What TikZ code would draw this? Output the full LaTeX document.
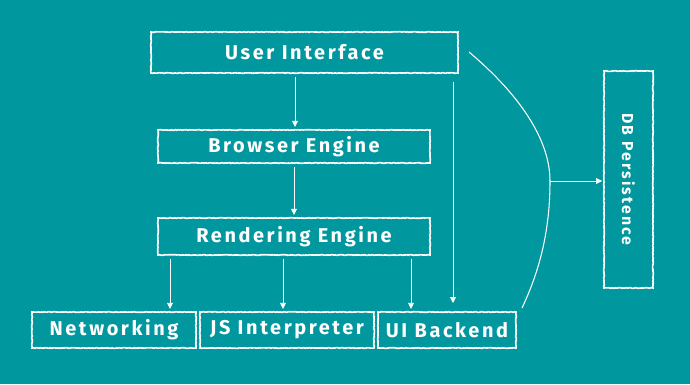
\documentclass[tikz,border=0pt]{standalone}
\usepackage{fontspec}
\setmainfont{Fira Sans}[LetterSpace=13]
\usepackage{tikz}
\usetikzlibrary{positioning, arrows.meta, decorations.pathmorphing}
\definecolor{bTeal}{HTML}{00979F}

\tikzset{
  box/.style={draw=white, line width=1.4pt, text=white, font=\bfseries\fontsize{17}{20}\selectfont,
    decorate, decoration={random steps, segment length=1.2pt, amplitude=0.3pt}, inner sep=0pt},
  arr/.style={draw=white, line width=0.5pt, -{Triangle[width=5pt,length=5pt]}, shorten <=3pt, shorten >=2pt}
}

\begin{document}
\begin{tikzpicture}[x=0.03cm, y=-0.03cm]
  \fill[bTeal] (0,0) rectangle (690,384);
  \useasboundingbox (0,0) rectangle (690,384);
  % boxes
  \node[box, minimum width=9.21cm, minimum height=1.23cm] (ui) at (304.5,52.5) {User Interface};
  \node[box, minimum width=8.16cm, minimum height=0.99cm] (be) at (294,146.5) {Browser Engine};
  \node[box, minimum width=8.16cm, minimum height=1.11cm] (re) at (294,236.5) {Rendering Engine};
  \node[box, minimum width=4.92cm, minimum height=1.08cm] (net) at (114,330) {Networking};
  \node[box, minimum width=5.22cm, minimum height=1.08cm] (js) at (287,330) {JS Interpreter};
  \node[box, minimum width=4.14cm, minimum height=1.08cm] (uib) at (447,330) {UI Backend};
  \node[box, minimum width=6.51cm, minimum height=1.47cm, font=\bfseries\fontsize{13.5}{16}\selectfont,
    rotate=-90] (db) at (628.5,179.5) {DB Persistence};
  % arrows
  \draw[arr] (ui.south -| 295,0) -- (be.north -| 295,0);
  \draw[arr] (be) -- (re);
  \draw[arr] (re.south -| 170,0) -- (net.north -| 170,0);
  \draw[arr] (re.south -| 283,0) -- (js.north -| 283,0);
  \draw[arr] (re.south -| 411,0) -- (uib.north -| 411,0);
  \draw[arr, shorten <=7pt, shorten >=7pt] (ui.south -| 453,0) -- (uib.north -| 453,0);
  % arc to persistence
  \coordinate (arcA) at (469,52);
  \coordinate (arcM) at (550,181);
  \coordinate (arcB) at (522,308);
  \draw[white, line width=0.9pt] (arcA) .. controls (520,95) and (550,140) .. (arcM)
    .. controls (550,230) and (540,270) .. (arcB);
  \draw[arr, shorten <=0pt, shorten >=1pt] (arcM) -- (arcM -| db.south);
\end{tikzpicture}
\end{document}
